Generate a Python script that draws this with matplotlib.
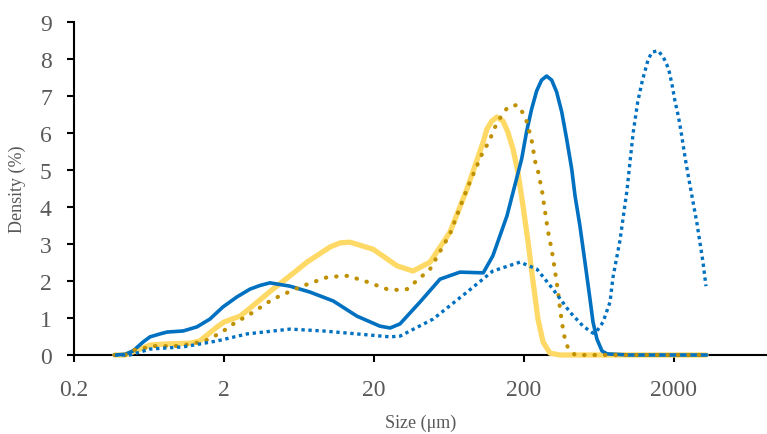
import numpy as np
import matplotlib.pyplot as plt
from matplotlib.ticker import FixedLocator, NullLocator

# blue solid
size_a = [0.375, 0.44, 0.495, 0.577, 0.642, 0.749, 0.834, 1.07, 1.32, 1.61,
          1.97, 2.44, 2.98, 3.48, 4.05, 5.51, 7.49, 10.7, 15.4, 21.9,
          25.6, 29.8, 40.5, 55.1, 74.9, 107, 124, 154, 193, 208,
          225, 243, 262, 283, 306, 330, 357, 385, 416, 438,
          472, 510, 551, 577, 613, 662, 715, 1000, 2000, 3270]
dens_a = [0, 0.02, 0.11, 0.35, 0.49, 0.57, 0.62, 0.65, 0.76, 0.97,
          1.30, 1.57, 1.78, 1.88, 1.95, 1.86, 1.70, 1.46, 1.05, 0.78,
          0.73, 0.84, 1.43, 2.05, 2.24, 2.22, 2.68, 3.76, 5.30, 6.03,
          6.65, 7.14, 7.43, 7.54, 7.43, 7.11, 6.57, 5.84, 5.03, 4.30,
          3.49, 2.51, 1.51, 0.89, 0.43, 0.11, 0.03, 0, 0, 0]

# blue dotted
size_b = [0.375, 0.472, 0.551, 0.642, 1.07, 1.80, 2.85, 5.51, 9.14, 15.4,
          25.6, 29.8, 49.5, 83.4, 124, 188, 244, 312, 405, 495,
          577, 613, 673, 749, 784, 873, 972, 1018, 1071, 1146,
          1230, 1348, 1433, 1572, 1697, 1788, 1861, 1949, 2031, 2137,
          2227, 2307, 2393, 2491, 2848, 3122, 3268]
dens_b = [0, 0, 0.08, 0.16, 0.22, 0.38, 0.57, 0.70, 0.65, 0.57,
          0.49, 0.51, 0.97, 1.70, 2.27, 2.51, 2.32, 1.78, 1.16, 0.78,
          0.59, 0.65, 0.89, 1.43, 2.10, 3.10, 4.45, 5.22, 6.03, 6.84,
          7.41, 8.00, 8.19, 8.22, 8.05, 7.86, 7.65, 7.27, 6.86, 6.46,
          6.05, 5.65, 5.24, 4.84, 3.55, 2.51, 1.86]

# gold dotted
size_c = [0.375, 0.438, 0.510, 0.595, 0.693, 0.809, 0.943, 1.10, 1.28, 1.49,
          1.69, 1.94, 2.19, 2.48, 2.85, 4.24, 6.42, 9.87, 13.4, 18.2,
          24.4, 28.5, 33.2, 47.3, 64.2, 83.4, 107, 117, 124, 132,
          143, 156, 180, 197, 209, 226, 237, 248, 264, 276,
          289, 307, 322, 337, 348, 364, 375, 393, 438, 1000,
          2000, 3270]
dens_c = [0, 0, 0.14, 0.19, 0.24, 0.24, 0.24, 0.27, 0.32, 0.38,
          0.49, 0.62, 0.78, 0.92, 1.05, 1.51, 1.84, 2.11, 2.14, 1.97,
          1.78, 1.76, 1.78, 2.32, 3.27, 4.49, 5.51, 5.76, 6.03, 6.27,
          6.49, 6.70, 6.76, 6.54, 6.30, 5.76, 5.24, 4.97, 4.43, 3.89,
          3.35, 2.81, 2.27, 1.73, 1.24, 0.70, 0.43, 0.19, 0, 0,
          0, 0]

# yellow solid
size_d = [0.375, 0.438, 0.551, 0.642, 0.834, 1.19, 1.38, 1.80, 2.0, 2.56,
          2.85, 4.24, 5.51, 7.15, 10.2, 11.9, 13.8, 19.7, 28.5, 36.4,
          47.3, 64.2, 83.4, 107, 113, 122, 132, 145, 156, 169,
          182, 197, 213, 230, 248, 268, 298, 348, 1000, 2000,
          3270]
dens_d = [0, 0, 0.16, 0.27, 0.30, 0.32, 0.38, 0.76, 0.89, 1.05,
          1.20, 1.78, 2.14, 2.51, 2.92, 3.03, 3.05, 2.86, 2.41, 2.27,
          2.51, 3.32, 4.49, 5.76, 6.10, 6.32, 6.43, 6.32, 6.03, 5.57,
          4.95, 4.03, 3.05, 1.97, 0.97, 0.35, 0.05, 0, 0, 0,
          0]

xticks = [0.2, 2, 20, 200, 2000]
xtick_labels = ["0.2", "2", "20", "200", "2000"]

plt.rcParams['font.family'] = ['Liberation Serif', 'DejaVu Serif']

fig = plt.figure(figsize=(7.67, 4.35), dpi=100)
ax = fig.add_axes([74 / 767, 79 / 435, 693 / 767, 333 / 435])

ax.plot(size_d, dens_d, color="#FFD966", lw=3.8, solid_capstyle="round",
        solid_joinstyle="round", clip_on=False, zorder=2)
ax.plot(size_a, dens_a, color="#0070C0", lw=2.6, solid_joinstyle="round",
        clip_on=False, zorder=3)
ax.plot(size_c, dens_c, color="#BF9000", lw=3.0, linestyle=(0, (0.1, 2.4)),
        dash_capstyle="round", clip_on=False, zorder=4)
ax.plot(size_b, dens_b, color="#0070C0", lw=2.4, linestyle=(0, (1, 1.1)),
        dash_capstyle="butt", clip_on=False, zorder=5)

ax.set_xscale("log")
ax.set_xlim(0.2, 8340)
ax.set_ylim(0, 9)
ax.xaxis.set_major_locator(FixedLocator(xticks))
ax.xaxis.set_minor_locator(NullLocator())
ax.set_xticklabels(xtick_labels)
ax.set_yticks(range(10))

for s in ["top", "right"]:
    ax.spines[s].set_visible(False)
for s in ["left", "bottom"]:
    ax.spines[s].set_linewidth(1.5)
    ax.spines[s].set_zorder(1)

ax.tick_params(axis="both", length=5, width=1.5, labelsize=17, labelcolor="#595959")
ax.tick_params(axis="x", pad=12)
ax.tick_params(axis="y", pad=11)

ax.set_xlabel("Size (\u03bcm)", fontsize=13, color="#595959", labelpad=10)
ax.set_ylabel("Density (%)", fontsize=13, color="#595959", labelpad=10)

fig.savefig("out.png", dpi=100)
